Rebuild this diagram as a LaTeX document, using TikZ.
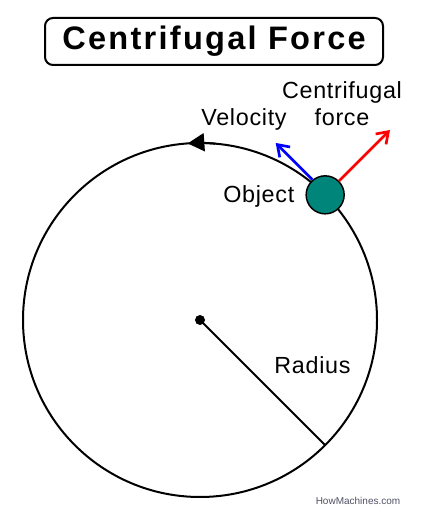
\documentclass[tikz,border=0pt]{standalone}
\usepackage{fontspec}
\setmainfont{Liberation Sans}
\newfontfamily\labelfont[LetterSpace=3]{Liberation Sans}
\newfontfamily\titlefont[LetterSpace=7]{Liberation Sans}
\usetikzlibrary{arrows.meta,positioning}
\definecolor{objteal}{RGB}{0,133,122}
\definecolor{sitegray}{RGB}{80,80,100}
\begin{document}
\begin{tikzpicture}[x=0.75pt,y=0.75pt,
        lbl/.style={font=\labelfont\fontsize{17.5pt}{20.8pt}\selectfont},
        vec/.style={line width=2pt,-{Straight Barb[length=8pt,width=11pt]}}]
        \useasboundingbox (0,0) rectangle (432,520);
        %% Title
        \node[draw,line width=1.5pt,rounded corners=6pt,minimum width=253.5pt,minimum height=35.25pt,inner sep=0pt,font=\titlefont\bfseries\fontsize{24.4pt}{24.4pt}\selectfont] (title) at (214,478.5) {Centrifugal Force};
        %% Path
        \coordinate (c) at (200,200);
        \draw[line width=1.5pt] (c) circle[radius=177];
        \draw[line width=1.5pt,-{Triangle[length=12.5pt,width=13.5pt]}] (c) ++(85:177) arc[start angle=85,end angle=94,radius=177];
        %% Radius
        \path (c) ++(-45:177) coordinate (rend);
        \draw[line width=1.5pt] (c) -- (rend);
        \fill (c) circle[radius=5];
        %% Object
        \path (c) ++(45:177) node[circle,draw,fill=objteal,line width=1.1pt,minimum size=28.5pt,inner sep=0pt] (obj) {};
        %% Forces
        \draw[vec,blue] (obj.130) -- ++(135:52);
        \draw[vec,red] (obj.45) -- ++(45:72);
        %% Labels
        \node[lbl,anchor=base] (vel) at (244,394) {Velocity};
        \node[lbl,align=center,anchor=base] (cf) at (342,394) {Centrifugal\\force};
        \node[lbl,anchor=base east] (objlbl) at (299,317.7) {Object};
        \node[lbl,anchor=base] (rlbl) at (312.5,146.7) {Radius};
        \node[font=\fontsize{7.5pt}{9pt}\selectfont,text=sitegray,anchor=base] (site) at (358,15) {HowMachines.com};
    \end{tikzpicture}
\end{document}
